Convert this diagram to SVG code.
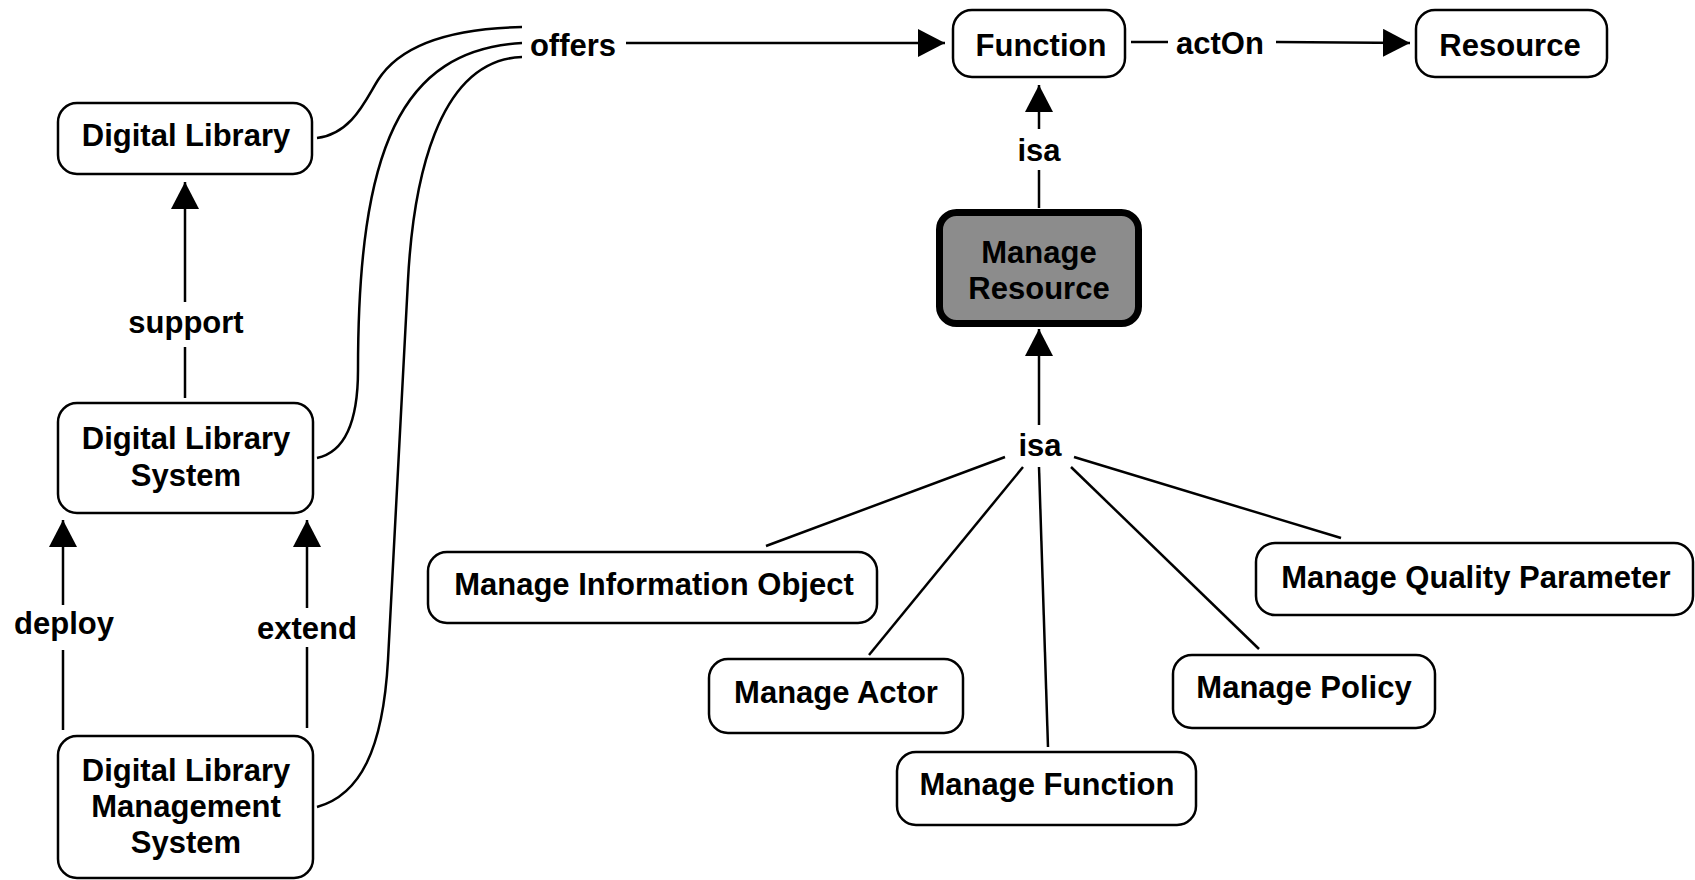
<svg xmlns="http://www.w3.org/2000/svg" width="1695" height="880" viewBox="0 0 1695 880">
<defs>
<marker id="arr" markerUnits="userSpaceOnUse" markerWidth="28" markerHeight="28" refX="27" refY="14" orient="auto" viewBox="0 0 28 28">
<path d="M0,0 L27,14 L0,28 z" fill="#000"/>
</marker>
</defs>
<style>
.box{fill:#fff;stroke:#000;stroke-width:2.5}
.hl{fill:#8c8c8c;stroke:#000;stroke-width:7}
.t{font-family:"Liberation Sans",Arial,sans-serif;font-weight:bold;font-size:31px;fill:#000;text-anchor:middle}
.c{fill:none;stroke:#000;stroke-width:2.5}
</style>
<rect width="1695" height="880" fill="#fff"/>
<g id="connectors">
<path class="c" d="M317,138 C352,134 366,99 378,80 C390,61 420,29 522,27"/>
<path class="c" d="M317,458 C345,452 358,420 358,370 C358,150 400,50 522,43"/>
<path class="c" d="M317,807 C360,795 383,750 388,660 L408,280 C413,185 436,60 522,57"/>
<line class="c" x1="626" y1="43" x2="945" y2="43" marker-end="url(#arr)"/>
<line class="c" x1="1131" y1="42" x2="1168" y2="42"/>
<line class="c" x1="1276" y1="42" x2="1410" y2="43" marker-end="url(#arr)"/>
<line class="c" x1="1039" y1="129" x2="1039" y2="85" marker-end="url(#arr)"/>
<line class="c" x1="1039" y1="208" x2="1039" y2="170"/>
<line class="c" x1="1039" y1="425" x2="1039" y2="329" marker-end="url(#arr)"/>
<line class="c" x1="185" y1="302" x2="185" y2="182" marker-end="url(#arr)"/>
<line class="c" x1="185" y1="398" x2="185" y2="347"/>
<line class="c" x1="63" y1="605" x2="63" y2="520" marker-end="url(#arr)"/>
<line class="c" x1="63" y1="730" x2="63" y2="650"/>
<line class="c" x1="307" y1="608" x2="307" y2="520" marker-end="url(#arr)"/>
<line class="c" x1="307" y1="728" x2="307" y2="647"/>
<line class="c" x1="1005" y1="457" x2="766" y2="546"/>
<line class="c" x1="1023" y1="467" x2="869" y2="655"/>
<line class="c" x1="1039" y1="467" x2="1048" y2="747"/>
<line class="c" x1="1071" y1="467" x2="1259" y2="649"/>
<line class="c" x1="1074" y1="457" x2="1341" y2="538"/>
<text class="t" x="573" y="56">offers</text>
<text class="t" x="1220" y="54">actOn</text>
<text class="t" x="1039" y="161">isa</text>
<text class="t" x="1040" y="456">isa</text>
<text class="t" x="186" y="333">support</text>
<text class="t" x="64" y="634">deploy</text>
<text class="t" x="307" y="639">extend</text>
</g>
<g id="n-dl">
<rect class="box" x="58" y="103" width="254" height="71" rx="19"/>
<text class="t" x="186" y="146">Digital Library</text>
</g>
<g id="n-dls">
<rect class="box" x="58" y="403" width="255" height="110" rx="19"/>
<text class="t" x="186" y="449">Digital Library</text>
<text class="t" x="186" y="486">System</text>
</g>
<g id="n-dlms">
<rect class="box" x="58" y="736" width="255" height="142" rx="19"/>
<text class="t" x="186" y="781">Digital Library</text>
<text class="t" x="186" y="817">Management</text>
<text class="t" x="186" y="853">System</text>
</g>
<g id="n-function">
<rect class="box" x="953" y="10" width="172" height="67" rx="19"/>
<text class="t" x="1041" y="56">Function</text>
</g>
<g id="n-resource">
<rect class="box" x="1416" y="10" width="191" height="67" rx="19"/>
<text class="t" x="1510" y="56">Resource</text>
</g>
<g id="n-manage-resource">
<rect class="hl" x="939.5" y="212.5" width="199" height="111" rx="17"/>
<text class="t" x="1039" y="263">Manage</text>
<text class="t" x="1039" y="299">Resource</text>
</g>
<g id="n-mio">
<rect class="box" x="428" y="552" width="449" height="71" rx="19"/>
<text class="t" x="654" y="595">Manage Information Object</text>
</g>
<g id="n-actor">
<rect class="box" x="709" y="659" width="254" height="74" rx="19"/>
<text class="t" x="836" y="703">Manage Actor</text>
</g>
<g id="n-mfunction">
<rect class="box" x="897" y="752" width="299" height="73" rx="19"/>
<text class="t" x="1047" y="795">Manage Function</text>
</g>
<g id="n-policy">
<rect class="box" x="1173" y="655" width="262" height="73" rx="19"/>
<text class="t" x="1304" y="698">Manage Policy</text>
</g>
<g id="n-mqp">
<rect class="box" x="1256" y="543" width="437" height="72" rx="19"/>
<text class="t" x="1476" y="588">Manage Quality Parameter</text>
</g>
</svg>
